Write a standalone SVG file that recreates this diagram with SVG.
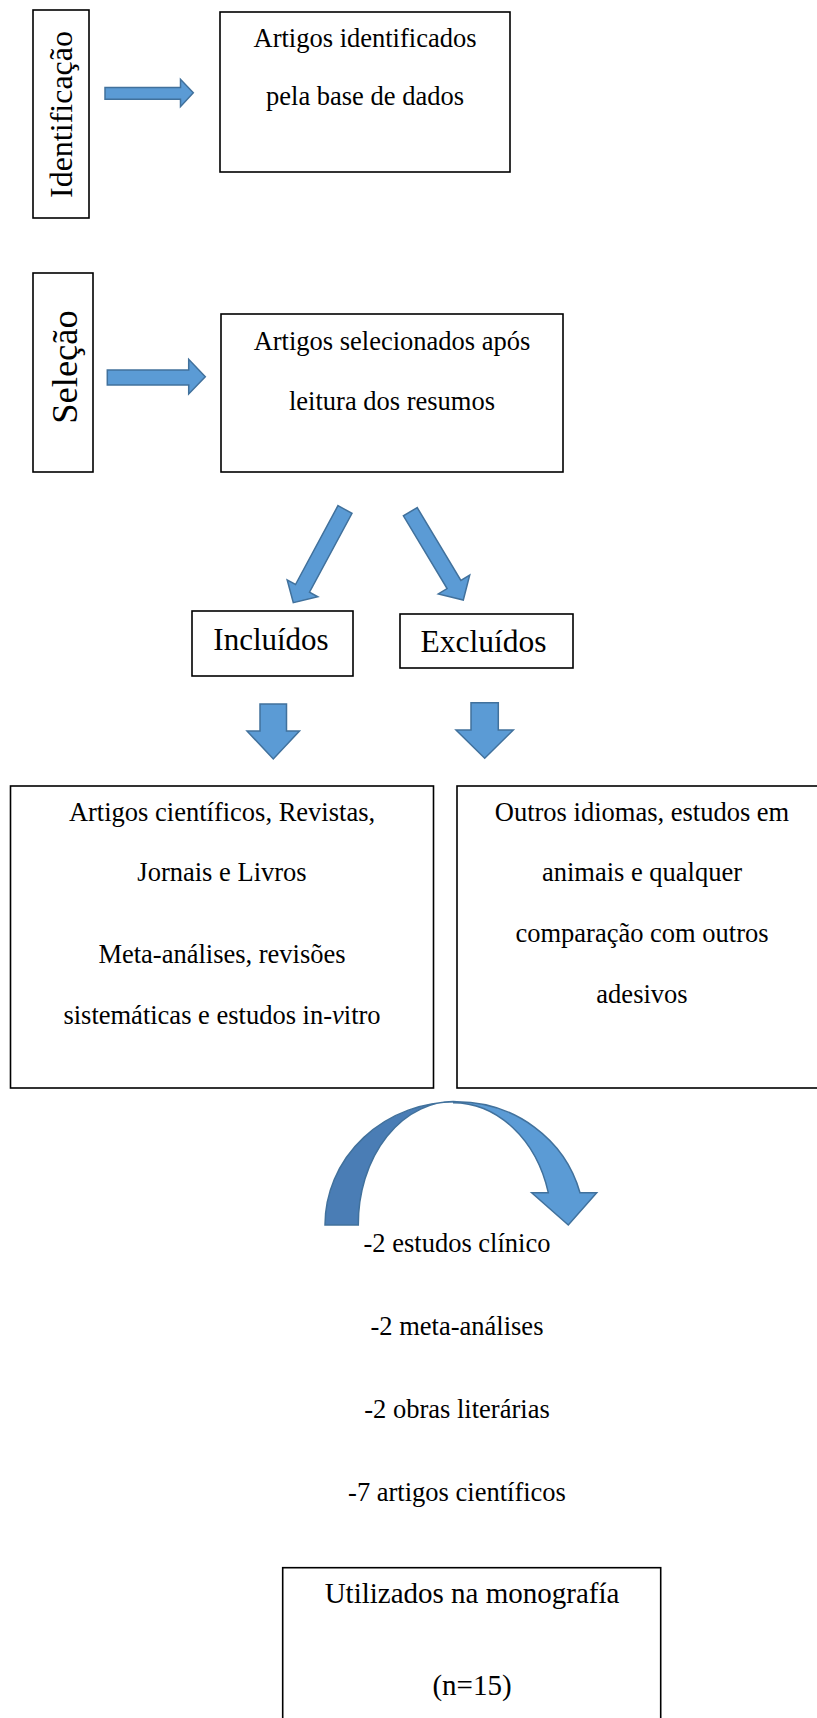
<svg xmlns="http://www.w3.org/2000/svg" width="817" height="1718" viewBox="0 0 817 1718">
<style>
.box{fill:#fff;stroke:#000;stroke-width:1.6}
.t{font-family:"Liberation Serif","Times New Roman",serif;font-size:26.5px;fill:#000;text-anchor:middle}
.arr{fill:#5B9BD5;stroke:#41719C;stroke-width:1.5;stroke-linejoin:miter}
.arrd{fill:#4A7DB5;stroke:#41719C;stroke-width:1.5}
</style>
<rect width="817" height="1718" fill="#fff"/>
<g id="identificacao">
<rect class="box" x="33" y="10" width="56" height="208"/>
<text class="t" style="font-size:32px" x="72" y="114.5" transform="rotate(-90 72 114.5)">Identificação</text>
</g>
<g id="artigos-identificados">
<rect class="box" x="220" y="12" width="290" height="160"/>
<text class="t" x="365" y="47">Artigos identificados</text>
<text class="t" x="365" y="105">pela base de dados</text>
</g>
<g id="selecao">
<rect class="box" x="33" y="273" width="60" height="199"/>
<text class="t" style="font-size:36.5px" x="76.5" y="367" transform="rotate(-90 76.5 367)">Seleção</text>
</g>
<g id="artigos-selecionados">
<rect class="box" x="221" y="314" width="342" height="158"/>
<text class="t" x="392" y="350">Artigos selecionados após</text>
<text class="t" x="392" y="410">leitura dos resumos</text>
</g>
<g id="incluidos">
<rect class="box" x="192" y="611" width="161" height="65"/>
<text class="t" style="font-size:31px" x="271" y="650">Incluídos</text>
</g>
<g id="excluidos">
<rect class="box" x="400" y="614" width="173" height="54"/>
<text class="t" style="font-size:31.5px" x="483.5" y="652">Excluídos</text>
</g>
<g id="criterios-inclusao">
<rect class="box" x="10.5" y="786" width="423" height="302"/>
<text class="t" x="222" y="821">Artigos científicos, Revistas,</text>
<text class="t" x="222" y="881">Jornais e Livros</text>
<text class="t" x="222" y="963">Meta-análises, revisões</text>
<text class="t" x="222" y="1024">sistemáticas e estudos in-<tspan font-style="italic">v</tspan>itro</text>
</g>
<g id="criterios-exclusao">
<rect class="box" x="457" y="786" width="380" height="302"/>
<text class="t" x="642" y="821">Outros idiomas, estudos em</text>
<text class="t" x="642" y="881">animais e qualquer</text>
<text class="t" x="642" y="942">comparação com outros</text>
<text class="t" x="642" y="1003">adesivos</text>
</g>
<g id="resultados">
<text class="t" x="457" y="1252">-2 estudos clínico</text>
<text class="t" x="457" y="1335">-2 meta-análises</text>
<text class="t" x="457" y="1418">-2 obras literárias</text>
<text class="t" x="457" y="1501">-7 artigos científicos</text>
</g>
<g id="utilizados">
<rect class="box" x="282.7" y="1567.7" width="378" height="170"/>
<text class="t" style="font-size:29px" x="472" y="1603">Utilizados na monografía</text>
<text class="t" style="font-size:29px" x="472" y="1695">(n=15)</text>
</g>
<g id="connectors">
<polygon class="arr" points="105,87.5 180.5,87.5 180.5,79.3 193.3,92.8 180.5,106.7 180.5,99.3 105,99.3"/>
<polygon class="arr" points="107.3,370 188.7,370 188.7,359.3 205.3,376.7 188.7,394 188.7,385 107.3,385"/>
<polygon class="arr" points="338,505.6 352,513.4 309.5,592.2 317.8,596.8 293.3,602.7 287.2,579.9 295.5,584.5"/>
<polygon class="arr" points="417.2,507.6 403.4,515.8 447.1,588.6 438.3,593.9 463.3,600 469.7,575.1 460.9,580.4"/>
<polygon class="arr" points="260,704 286.5,704 286.5,731 299.5,731 273.3,759 247,731 260,731"/>
<polygon class="arr" points="471,702.7 498.3,702.7 498.3,730 513.3,730 484.7,758.3 456,730 471,730"/>
<path class="arrd" d="M325,1225 A131,123.3 0 0 1 456.7,1101.7 A95,122.3 0 0 0 358.3,1225 Z"/>
<path class="arr" d="M456.7,1101.7 A127.8,123.3 0 0 1 580,1192.7 L596.7,1192.7 L568.3,1225 L531.7,1192.7 L548.3,1192.7 A98.8,122.3 0 0 0 453,1102.7 Z"/>
</g>
</svg>
